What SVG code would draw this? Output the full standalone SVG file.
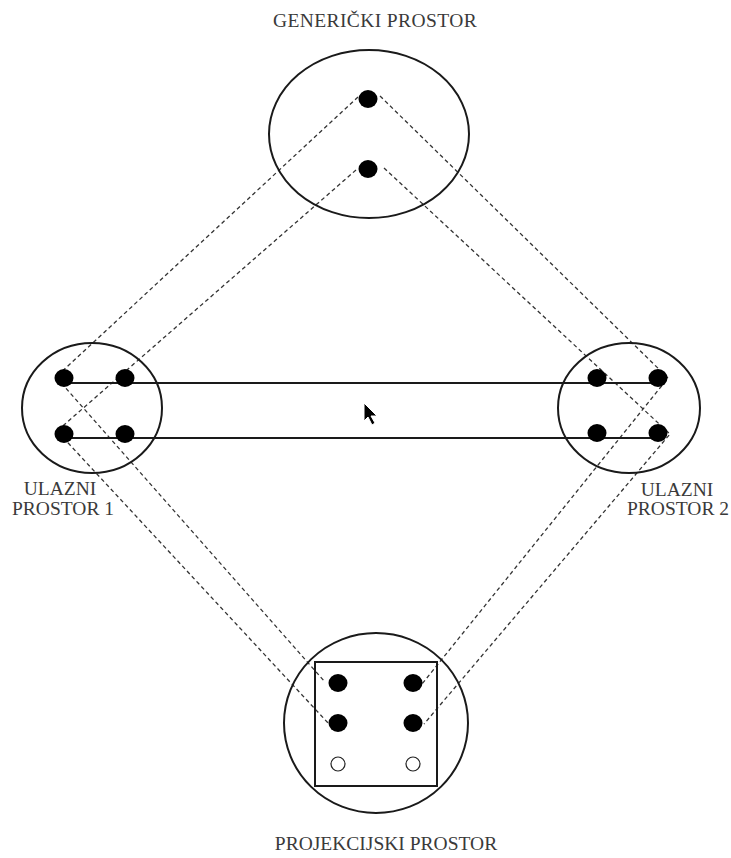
<svg xmlns="http://www.w3.org/2000/svg" width="731" height="858" viewBox="0 0 731 858">
<style>
  .space { fill: none; stroke: #1a1a1a; stroke-width: 2; }
  .dot { fill: #000; }
  .hollow { fill: #fff; stroke: #222; stroke-width: 1.2; }
  .dash { fill: none; stroke: #333; stroke-width: 1.3; stroke-dasharray: 4 3; }
  .solid { fill: none; stroke: #1a1a1a; stroke-width: 2; }
  .label { font-family: "Liberation Serif", "Times New Roman", serif; font-size: 19.5px; fill: #3a3a3a; text-anchor: middle; }
</style>
<rect width="731" height="858" fill="#fff"/>

<g id="connectors">
  <polyline class="dash" points="358,97 56,377 325,682"/>
  <polyline class="dash" points="356,170 57,431 329,724"/>
  <polyline class="dash" points="380,96 668,378 422,684"/>
  <polyline class="dash" points="384,168 670,434 424,724"/>
  <line class="solid" x1="64" y1="383" x2="658" y2="383"/>
  <line class="solid" x1="64" y1="438" x2="658" y2="438"/>
</g>

<g id="generic-space">
  <ellipse class="space" cx="369" cy="134" rx="100" ry="84"/>
  <ellipse class="dot" cx="368" cy="99" rx="9.5" ry="9"/>
  <ellipse class="dot" cx="368" cy="169" rx="9.5" ry="9"/>
  <text class="label" x="375" y="27" letter-spacing="0.4">GENERIČKI PROSTOR</text>
</g>

<g id="input-space-1">
  <ellipse class="space" cx="92" cy="408" rx="70" ry="65"/>
  <ellipse class="dot" cx="64" cy="378" rx="9.5" ry="9"/>
  <ellipse class="dot" cx="125" cy="378" rx="9.5" ry="9"/>
  <ellipse class="dot" cx="64" cy="434" rx="9.5" ry="9"/>
  <ellipse class="dot" cx="125" cy="434" rx="9.5" ry="9"/>
  <text class="label" x="60" y="495">ULAZNI</text>
  <text class="label" x="63" y="515">PROSTOR 1</text>
</g>

<g id="input-space-2">
  <ellipse class="space" cx="629" cy="408" rx="71" ry="65"/>
  <ellipse class="dot" cx="597" cy="378" rx="9.5" ry="9"/>
  <ellipse class="dot" cx="658" cy="378" rx="9.5" ry="9"/>
  <ellipse class="dot" cx="597" cy="433" rx="9.5" ry="9"/>
  <ellipse class="dot" cx="658" cy="433" rx="9.5" ry="9"/>
  <text class="label" x="677" y="496">ULAZNI</text>
  <text class="label" x="678" y="515">PROSTOR 2</text>
</g>

<g id="projection-space">
  <ellipse class="space" cx="376" cy="723" rx="92" ry="90"/>
  <rect class="space" x="315" y="662" width="122" height="124"/>
  <ellipse class="dot" cx="338" cy="683" rx="9.5" ry="9"/>
  <ellipse class="dot" cx="413" cy="683" rx="9.5" ry="9"/>
  <ellipse class="dot" cx="338" cy="723" rx="9.5" ry="9"/>
  <ellipse class="dot" cx="413" cy="723" rx="9.5" ry="9"/>
  <ellipse class="hollow" cx="338" cy="764" rx="7" ry="7"/>
  <ellipse class="hollow" cx="413" cy="764" rx="7" ry="7"/>
  <text class="label" x="386" y="850">PROJEKCIJSKI PROSTOR</text>
</g>

<polygon points="364,403 364,421 368,417 372,425 375,423 371,416 377,416" fill="#000" stroke="#fff" stroke-width="1"/>
</svg>
